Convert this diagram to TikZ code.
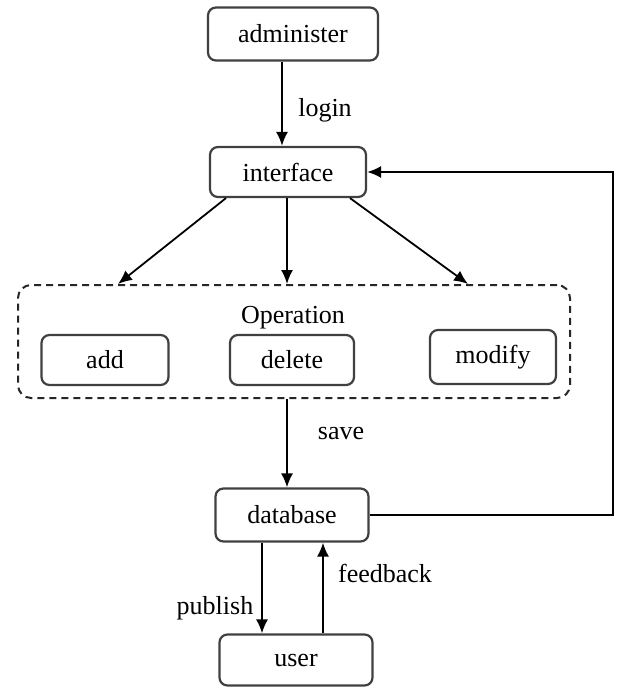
\documentclass[tikz,border=0pt]{standalone}
\usepackage{fontspec}
\setmainfont{LiberationSerif-Regular.ttf}
\usetikzlibrary{arrows.meta,calc}
\begin{document}
\begin{tikzpicture}[x=1pt,y=-1pt,
  box/.style={draw=black!75, line width=2.2pt, rounded corners=8pt, inner sep=0pt, font=\fontsize{26}{29}\selectfont},
  grp/.style={draw=black!85, line width=2pt, dash pattern=on 7pt off 5pt, rounded corners=13pt},
  arr/.style={draw=black, line width=1.8pt, -{Latex[length=14pt,width=12pt]}},
  lbl/.style={font=\fontsize{26}{29}\selectfont, inner sep=0pt}]
\useasboundingbox (0,0) rectangle (616,687);
% nodes
\node[box, minimum width=170pt, minimum height=53pt] (adm) at (293,34) {administer};
\node[box, minimum width=156pt, minimum height=50pt] (intf) at (288,172) {interface};
\node[grp, minimum width=552pt, minimum height=113pt] (ops) at (294,341.5) {};
\node[lbl] (opl) at (293,318) {Operation};
\node[box, minimum width=127pt, minimum height=50pt] (add) at (105,360) {add};
\node[box, minimum width=124pt, minimum height=50pt] (del) at (292,360) {delete};
\node[box, minimum width=126pt, minimum height=54pt] (mod) at (493,357) {modify};
\node[box, minimum width=153pt, minimum height=53pt] (db) at (292,515) {database};
\node[box, minimum width=153pt, minimum height=51pt] (usr) at (296,660) {user};
% helper coordinates
\coordinate (lx) at (282,0);
\coordinate (a1) at (226,0);
\coordinate (a2) at (118,0);
\coordinate (b1) at (287,0);
\coordinate (c1) at (350,0);
\coordinate (c2) at (468,0);
\coordinate (sx) at (287,0);
\coordinate (px) at (262,0);
\coordinate (fx) at (323,0);
\coordinate (rt) at (613,0);
% connectors
\draw[arr] (adm.south -| lx) -- (intf.north -| lx);
\node[lbl] (login) at (325,110) {login};
\draw[arr] (intf.south -| a1) -- (ops.north -| a2);
\draw[arr] (intf.south -| b1) -- (ops.north -| b1);
\draw[arr] (intf.south -| c1) -- (ops.north -| c2);
\draw[arr] (ops.south -| sx) -- (db.north -| sx);
\node[lbl] (save) at (341,433) {save};
\draw[arr] (db.south -| px) -- (usr.north -| px);
\node[lbl] (pub) at (215,608) {publish};
\draw[arr] (usr.north -| fx) -- (db.south -| fx);
\node[lbl] (fb) at (385,573) {feedback};
\draw[arr] (db.east) -- (db.east -| rt) -- (intf.east -| rt) -- (intf.east);
\end{tikzpicture}
\end{document}
